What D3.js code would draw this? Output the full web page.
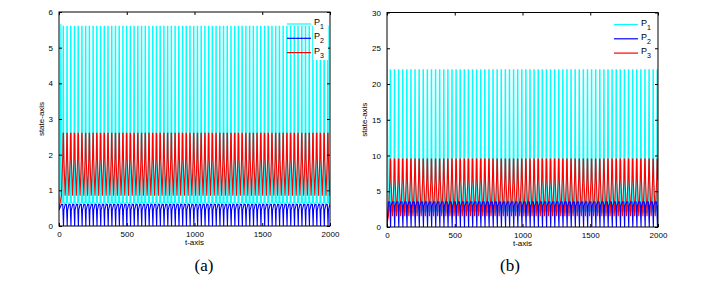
<!DOCTYPE html>
<html>
<head>
<meta charset="utf-8">
<script src="https://cdn.jsdelivr.net/npm/d3@7"></script>
<style>
  body { margin: 0; background: #fff; }
  svg { display: block; }
  .tick text { font-family: "Liberation Sans", Arial, sans-serif; font-size: 8px; }
  .label { font-family: "Liberation Sans", Arial, sans-serif; font-size: 8px; }
  .cap { font-family: "Liberation Serif", "Times New Roman", serif; font-size: 17px; }
</style>
</head>
<body>
<svg width="707" height="282"></svg>
<script>
const tMax = 2000;
const tTicks = [0, 500, 1000, 1500, 2000];
const names = ["P1", "P2", "P3"];
const colors = ["#00ffff", "#0000ff", "#ff0000"];
const drawOrder = [0, 2, 1];

// panel (a): one oscillation cycle, repeated over t
const yTicksA = [0, 1, 2, 3, 4, 5, 6];
const periodA = 27.5;
const firstA = 18;                  // t where the first regular cycle begins
const phaseA = [0, 0.35, 0.45, 0.55, 0.65, 1];
const p1A = [0.62, 0.66, 5.6, 5.6, 0.66, 0.62];
const p2A = [0.6, 0.6, 0.3, 0.0, 0.45, 0.6];
const p3A = [0.85, 1.9, 2.6, 2.6, 1.9, 0.85];
const leadA = [
  [[0, 0.7], [8, 0.9], [14, 5.66], [18, 0.62]],
  [[0, 0.45], [18, 0.6]],
  [[0, 0.5], [18, 0.85]]
];

// panel (b)
const yTicksB = [0, 5, 10, 15, 20, 25, 30];
const periodB = 30.3;
const firstB = 10;
const phaseB = [0, 0.35, 0.45, 0.55, 0.65, 1];
const p1B = [2.0, 2.5, 22, 22, 2.5, 2.0];
const p2B = [3.5, 3.5, 1.5, 0.0, 3.0, 3.5];
const p3B = [1.5, 6.5, 9.5, 9.5, 6.5, 1.5];
const leadB = [
  [[0, 25], [10, 2.0]],
  [[0, 0.1], [10, 3.5]],
  [[0, 0.4], [10, 1.5]]
];

function buildSeries(lead, first, period, phase, values) {
  const pts = lead.slice();
  for (let k = 0; first + k * period < tMax; k++) {
    phase.forEach((p, i) => {
      const t = first + (k + p) * period;
      if (t > first + k * period && t <= tMax) pts.push([t, values[i]]);
    });
  }
  return pts;
}

const svg = d3.select("svg");

function drawPanel(cfg) {
  const x = d3.scaleLinear().domain([0, tMax]).range([cfg.left, cfg.right]);
  const y = d3.scaleLinear().domain([0, d3.max(cfg.yTicks)]).range([cfg.bottom, cfg.top]);
  const g = svg.append("g");

  const clipId = "clip" + cfg.id;
  g.append("clipPath").attr("id", clipId)
    .append("rect")
    .attr("x", cfg.left).attr("y", cfg.top)
    .attr("width", cfg.right - cfg.left).attr("height", cfg.bottom - cfg.top);

  const line = d3.line().x(d => x(d[0])).y(d => y(d[1]));
  const plot = g.append("g").attr("clip-path", `url(#${clipId})`);
  drawOrder.forEach(i => {
    plot.append("path")
      .attr("d", line(cfg.series[i]))
      .attr("fill", "none")
      .attr("stroke", colors[i])
      .attr("stroke-width", 1.1);
  });

  // box with inward ticks on all four sides
  const fmt = d3.format("d");
  g.append("g").attr("transform", `translate(0,${cfg.bottom})`)
    .call(d3.axisBottom(x).tickValues(tTicks).tickSizeInner(-3).tickSizeOuter(0).tickPadding(5).tickFormat(fmt))
    .call(a => a.select(".domain").remove());
  g.append("g").attr("transform", `translate(0,${cfg.top})`)
    .call(d3.axisTop(x).tickValues(tTicks).tickSizeInner(-3).tickSizeOuter(0).tickFormat(""))
    .call(a => a.select(".domain").remove());
  g.append("g").attr("transform", `translate(${cfg.left},0)`)
    .call(d3.axisLeft(y).tickValues(cfg.yTicks).tickSizeInner(-3).tickSizeOuter(0).tickPadding(6).tickFormat(fmt))
    .call(a => a.select(".domain").remove());
  g.append("g").attr("transform", `translate(${cfg.right},0)`)
    .call(d3.axisRight(y).tickValues(cfg.yTicks).tickSizeInner(-3).tickSizeOuter(0).tickFormat(""))
    .call(a => a.select(".domain").remove());
  g.selectAll(".tick line").attr("stroke", "#000");

  g.append("rect")
    .attr("x", cfg.left).attr("y", cfg.top)
    .attr("width", cfg.right - cfg.left).attr("height", cfg.bottom - cfg.top)
    .attr("fill", "none").attr("stroke", "#000").attr("stroke-width", 1);

  // legend
  if (cfg.legendBg) {
    g.append("rect")
      .attr("x", cfg.legendX + 26).attr("y", cfg.legendY + 2)
      .attr("width", cfg.right - cfg.legendX - 28).attr("height", 34)
      .attr("fill", "#fff");
  }
  names.forEach((n, i) => {
    const ly = cfg.legendY + i * 14.3;
    g.append("line")
      .attr("x1", cfg.legendX).attr("x2", cfg.legendX + 24)
      .attr("y1", ly).attr("y2", ly)
      .attr("stroke", colors[i]).attr("stroke-width", 1.2);
    const t = g.append("text").attr("class", "label")
      .attr("x", cfg.legendX + 27).attr("y", ly + 1)
      .style("font-size", "9px");
    t.append("tspan").text("P");
    t.append("tspan").attr("dy", 4).style("font-size", "7px").text(n.slice(1));
  });

  g.append("text").attr("class", "label")
    .attr("x", (cfg.left + cfg.right) / 2).attr("y", cfg.bottom + 19)
    .attr("text-anchor", "middle").text("t-axis");
  g.append("text").attr("class", "label")
    .attr("transform", `translate(${cfg.yLabelX},${(cfg.top + cfg.bottom) / 2}) rotate(-90)`)
    .attr("text-anchor", "middle").text("state-axis");
  g.append("text").attr("class", "cap")
    .attr("x", cfg.capX).attr("y", 271)
    .attr("text-anchor", "middle").text(cfg.caption);
}

drawPanel({
  id: "a", left: 59, right: 330, top: 12, bottom: 226,
  yTicks: yTicksA,
  series: [
    buildSeries(leadA[0], firstA, periodA, phaseA, p1A),
    buildSeries(leadA[1], firstA, periodA, phaseA, p2A),
    buildSeries(leadA[2], firstA, periodA, phaseA, p3A)
  ],
  legendX: 287, legendY: 24, legendBg: true,
  yLabelX: 44, capX: 204, caption: "(a)"
});

drawPanel({
  id: "b", left: 387, right: 658, top: 12.5, bottom: 227,
  yTicks: yTicksB,
  series: [
    buildSeries(leadB[0], firstB, periodB, phaseB, p1B),
    buildSeries(leadB[1], firstB, periodB, phaseB, p2B),
    buildSeries(leadB[2], firstB, periodB, phaseB, p3B)
  ],
  legendX: 614, legendY: 24.5, legendBg: false,
  yLabelX: 367, capX: 510, caption: "(b)"
});
</script>
</body>
</html>
